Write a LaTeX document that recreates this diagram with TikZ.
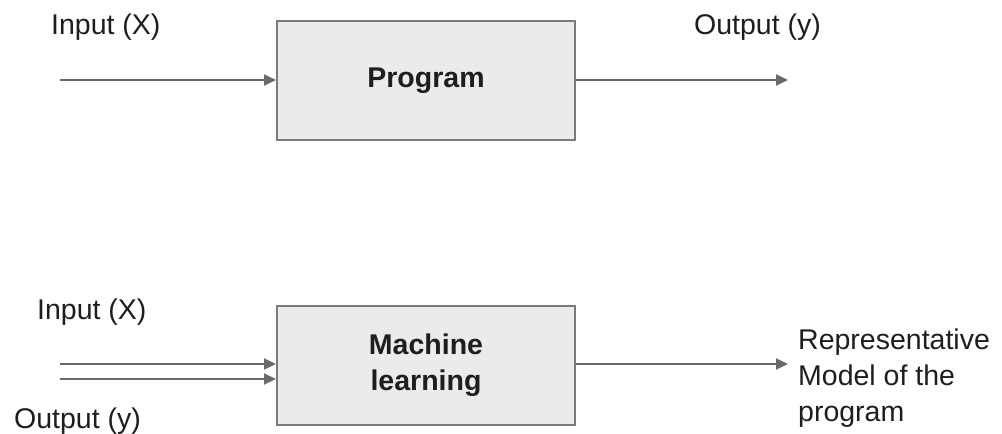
\documentclass[tikz,border=0pt]{standalone}
\usepackage{fontspec}
\setmainfont{Liberation Sans}
\usetikzlibrary{arrows.meta}
\definecolor{boxfill}{HTML}{EBEBEB}
\definecolor{boxline}{HTML}{7A7A7A}
\definecolor{arrowcol}{HTML}{6A6A6A}
\definecolor{txt}{HTML}{1E1E1E}
\begin{document}
\begin{tikzpicture}[x=1pt,y=-1pt,
  procbox/.style={draw=boxline,fill=boxfill,line width=2pt,minimum width=298pt,minimum height=119pt,inner sep=0pt,font=\fontsize{28.5}{36}\selectfont\bfseries,text=txt,align=center},
  lbl/.style={font=\fontsize{28.5}{36}\selectfont,text=txt,inner sep=0pt,anchor=base west,align=left},
  flow/.style={draw=arrowcol,line width=2pt,-{Triangle[length=12pt,width=11pt]}}]
\useasboundingbox (0,0) rectangle (1002,434);
\node[procbox] (prog) at (426,80.5) {Program};
\node[procbox] (ml) at (426,365) {Machine\\learning};
\coordinate (in1) at (60,80);
\coordinate (out1) at (788,80);
\coordinate (in2a) at (60,364);
\coordinate (in2b) at (60,379);
\coordinate (out2) at (788,364);
\draw[flow] (in1) -- (prog.west |- in1);
\draw[flow] (prog.east |- out1) -- (out1);
\draw[flow] (in2a) -- (ml.west |- in2a);
\draw[flow] (in2b) -- (ml.west |- in2b);
\draw[flow] (ml.east |- out2) -- (out2);
\node[lbl] (lin1) at (51,34) {Input (X)};
\node[lbl] (lout1) at (694,34) {Output (y)};
\node[lbl] (lin2) at (37,319) {Input (X)};
\node[lbl] (lout2) at (14,428) {Output (y)};
\node[lbl] (lrep) at (798,421) {Representative\\Model of the\\program};
\end{tikzpicture}
\end{document}
